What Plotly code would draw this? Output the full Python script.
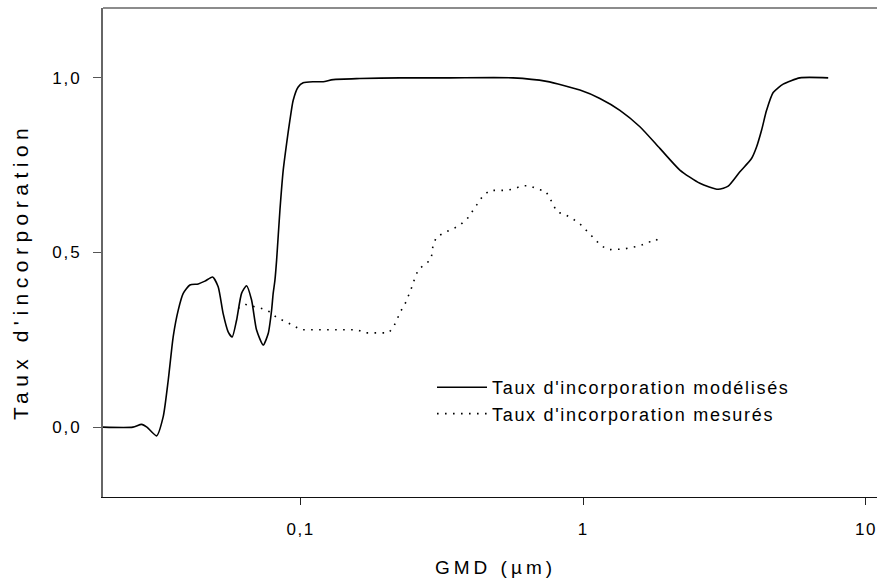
import plotly.graph_objects as go

# Modelled incorporation rate (solid line)
gmd_model = [0.0200, 0.02552, 0.02739, 0.02860, 0.03095, 0.03266, 0.03403, 0.03544, 0.03691,
             0.03844, 0.04059, 0.04344, 0.04586, 0.04883, 0.05110, 0.05322, 0.05543, 0.05728,
             0.05936, 0.06183, 0.06440, 0.06708, 0.06987, 0.07374, 0.07681, 0.07897, 0.07998,
             0.08112, 0.08225, 0.08450, 0.08680, 0.08922, 0.09166, 0.09415, 0.09806, 0.1021,
             0.1108, 0.1202, 0.1304, 0.1621, 0.2245, 0.3374, 0.5636, 0.7419, 0.9728, 1.1446,
             1.3474, 1.586, 1.866, 2.196, 2.585, 3.001, 3.255, 3.581, 3.937, 4.101, 4.272,
             4.450, 4.696, 5.094, 5.837, 7.351]
taux_model = [0.000, 0.000, 0.008, 0.000, -0.025, 0.030, 0.135, 0.260, 0.335,
              0.383, 0.407, 0.410, 0.418, 0.430, 0.402, 0.325, 0.273, 0.258,
              0.306, 0.383, 0.405, 0.364, 0.278, 0.235, 0.268, 0.335, 0.383,
              0.420, 0.478, 0.621, 0.736, 0.812, 0.879, 0.936, 0.974, 0.986,
              0.989, 0.989, 0.995, 0.998, 1.000, 1.000, 1.000, 0.990, 0.965, 0.941,
              0.907, 0.860, 0.798, 0.736, 0.698, 0.681, 0.690, 0.731, 0.769, 0.802, 0.850,
              0.907, 0.958, 0.982, 1.000, 1.000]

# Measured incorporation rate (dotted line)
gmd_mes = [0.06016, 0.06388, 0.07278, 0.07788, 0.08225, 0.08800, 0.09369, 0.1000, 0.1586,
           0.1688, 0.2053, 0.2144, 0.2196, 0.2264, 0.2339, 0.2403, 0.2457, 0.2503, 0.2553,
           0.2621, 0.2791, 0.2897, 0.2921, 0.2945, 0.3028, 0.3239, 0.3457, 0.3681, 0.3906,
           0.4078, 0.4238, 0.4404, 0.4674, 0.5322, 0.5682, 0.6066, 0.6476, 0.6893, 0.7358,
           0.7618, 0.7827, 0.8087, 0.8608, 0.9189, 0.9728, 1.0273, 1.0903, 1.1538, 1.2250,
           1.3917, 1.586, 1.6967, 1.806, 1.866]
taux_mes = [0.340, 0.351, 0.340, 0.330, 0.314, 0.303, 0.292, 0.279, 0.279,
            0.270, 0.270, 0.291, 0.311, 0.333, 0.352, 0.373, 0.394, 0.413, 0.434,
            0.453, 0.469, 0.482, 0.504, 0.524, 0.544, 0.558, 0.567, 0.580, 0.599,
            0.620, 0.640, 0.661, 0.678, 0.678, 0.682, 0.691, 0.691, 0.681, 0.676,
            0.656, 0.636, 0.616, 0.609, 0.596, 0.582, 0.561, 0.541, 0.520, 0.508,
            0.510, 0.519, 0.530, 0.532, 0.551]

x_tickvals = [0.1, 1, 10]
x_ticktext = ["0,1", "1", "10"]
y_tickvals = [0.0, 0.5, 1.0]
y_ticktext = ["0,0", "0,5", "1,0"]

name_model = "Taux d'incorporation modélisés"
name_mes = "Taux d'incorporation mesurés"
x_title = "GMD (µm)"
y_title = "Taux d'incorporation"

FONT = "Liberation Sans, Arial, sans-serif"
INK = "#000"


def spaced(txt, px):
    return '<span style="letter-spacing:%spx">%s</span>' % (px, txt)


fig = go.Figure()
fig.add_trace(go.Scatter(
    x=gmd_model, y=taux_model, mode="lines", name=spaced(name_model, 1.7),
    line=dict(color="black", width=1.6, shape="spline", smoothing=0.6),
))
fig.add_trace(go.Scatter(
    x=gmd_mes, y=taux_mes, mode="lines", name=spaced(name_mes, 1.7),
    line=dict(color="black", width=1.6, dash="1.6px,6.4px"),
))

fig.update_layout(
    width=877, height=584,
    margin=dict(l=103, r=0, t=8, b=87),
    paper_bgcolor="white", plot_bgcolor="white",
    font=dict(family=FONT, color=INK, size=17),
    showlegend=True,
    legend=dict(
        x=(432 - 103) / 774, y=(497 - 369) / 489, xanchor="left", yanchor="top",
        bgcolor="rgba(0,0,0,0)", font=dict(size=18, family=FONT, color=INK),
        tracegroupgap=0, itemwidth=50,
    ),
    xaxis=dict(
        type="log", range=[-1.699, 1.039],
        tickvals=x_tickvals, ticktext=[spaced(t, 1.5) for t in x_ticktext],
        ticks="outside", ticklen=7, tickcolor="#222", tickwidth=1,
        showline=True, linecolor="#111", linewidth=1.2,
        showgrid=False, zeroline=False, ticklabelstandoff=9,
        tickfont=dict(size=17, family=FONT, color=INK),
    ),
    yaxis=dict(
        range=[-0.2, 1.2],
        tickvals=y_tickvals, ticktext=[spaced(t, 2) for t in y_ticktext],
        ticks="outside", ticklen=8, tickcolor="#555", tickwidth=1,
        showline=True, linecolor="#666", linewidth=1.6,
        showgrid=False, zeroline=False, ticklabelstandoff=8,
        tickfont=dict(size=17, family=FONT, color=INK),
    ),
    shapes=[dict(type="line", xref="paper", yref="paper", x0=0, x1=1, y0=1, y1=1,
                 line=dict(color="#666", width=1.6))],
    annotations=[
        dict(text=spaced(y_title, 5.5), xref="paper", yref="paper",
             x=(20 - 103) / 774, y=(497 - 272) / 489, xanchor="center", yanchor="middle",
             textangle=-90, showarrow=False, font=dict(size=21, family=FONT, color=INK)),
        dict(text=spaced(x_title, 4), xref="paper", yref="paper",
             x=(495.5 - 103) / 774, y=(497 - 567) / 489, xanchor="center", yanchor="middle",
             showarrow=False, font=dict(size=19, family=FONT, color=INK)),
    ],
)

# remove the default 8px page margin so the figure fills the window exactly
fig.write_html("out.html", config={"displayModeBar": False},
               post_script="document.body.style.margin='0';"
                           "document.body.style.overflow='hidden';")
